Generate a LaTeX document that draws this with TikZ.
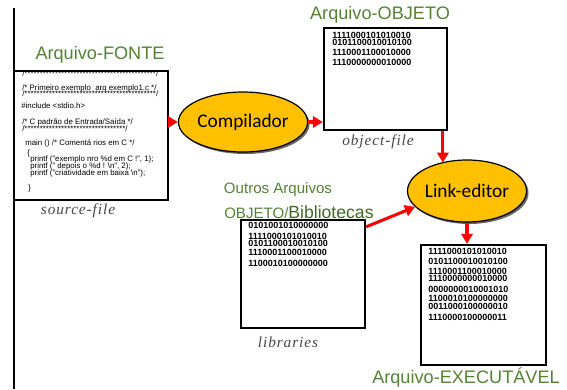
\documentclass[tikz,border=0pt]{standalone}
\usepackage{fontspec}
\setmainfont{Liberation Sans}
\newfontfamily\calibrifont{Carlito}
\newfontfamily\spacedserif{Liberation Serif}[LetterSpace=6]
\usetikzlibrary{arrows.meta, shapes.geometric, shadows}

\definecolor{labelgreen}{RGB}{84,130,53}
\definecolor{darkgreen}{RGB}{62,104,38}
\definecolor{goldfill}{RGB}{255,192,0}
\definecolor{captiongray}{RGB}{70,70,70}

\tikzset{
  filebox/.style = {rectangle, line width = 1.8pt, draw = black, fill = white, inner sep = 0pt},
  toolnode/.style = {ellipse, line width = 0.9pt, draw = black, fill = goldfill, inner sep = 0pt, font = \calibrifont\fontsize{14.5}{16}\selectfont, drop shadow = {shadow xshift = 1.5pt, shadow yshift = -1.5pt, fill = black!60, opacity = 1}},
  greenlabel/.style = {text = labelgreen, inner sep = 0pt, font = \fontsize{13.6}{15}\selectfont},
  caption/.style = {text = captiongray, inner sep = 0pt, font = \spacedserif\itshape\fontsize{11.5}{13}\selectfont},
  codeline/.style = {anchor = base west, inner sep = 0pt, font = \fontsize{5.9}{6.5}\selectfont},
  bits/.style = {anchor = north west, align = left, inner sep = 0pt, font = \bfseries\fontsize{6.75}{7.5}\selectfont},
  redarrow/.style = {draw = red, line width = 2.3pt, -{Triangle[length = 7.5pt, width = 8.5pt]}}
}

\begin{document}
\begin{tikzpicture}[x = 0.75pt, y = -0.75pt]
\useasboundingbox (0, 0) rectangle (567, 389);

\draw[line width = 2.2pt] (14, 8) -- (14, 389);

% file boxes
\node[filebox, minimum width = 115.5pt, minimum height = 96.75pt] (src) at (91, 135.5) {};
\node[filebox, minimum width = 92.25pt, minimum height = 76.5pt] (obj) at (385.5, 79) {};
\node[filebox, minimum width = 93pt, minimum height = 81pt] (lib) at (303, 274) {};
\node[filebox, minimum width = 93.75pt, minimum height = 90pt] (exec) at (483.5, 305) {};

% tools
\node[toolnode, minimum width = 82.5pt, minimum height = 45pt] (comp) at (243, 122) {Compilador};
\node[toolnode, minimum width = 79.5pt, minimum height = 46.5pt] (link) at (467, 191) {Link-editor};

% source code
\node[codeline] (c1) at (22, 76) {/*******************************************/};
\node[codeline] (c2) at (22, 90) {/* Primeiro exemplo\ \ arq exemplo1.c */};
\node[codeline] (c3) at (22, 96) {/*******************************************/};
\node[codeline] (c4) at (21, 108) {\#include <stdio.h>};
\node[codeline] (c5) at (22, 124) {/* C padrão de Entrada/Saída */};
\node[codeline] (c6) at (22, 131) {/*********************************/};
\node[codeline] (c7) at (25, 145) {main () /* Comentá rios em C */};
\node[codeline] (c8) at (27, 155) {\{};
\node[codeline] (c9) at (30, 161) {printf ("exemplo nro \%d em C !", 1);};
\node[codeline] (c10) at (30, 168) {printf (" depois o \%d ! \textbackslash n", 2);};
\node[codeline] (c11) at (30, 175) {printf ("criatividade em baixa \textbackslash n");};
\node[codeline] (c12) at (28, 190) {\}};

% binary contents
\node[bits] (objbits) at (332, 32) {1111000101010010\\[-2.25pt]0101100010010100\\1110001100010000\\1110000000010000};
\node[bits] (libbits) at (248, 222) {0101001010000000\\[0.75pt]1111000101010010\\[-2.25pt]0101100010010100\\[-0.75pt]1110001100010000\\[0.75pt]1100010100000000};
\node[bits] (exebits) at (428, 248) {1111000101010010\\0101100010010100\\1110001100010000\\[-2.25pt]1110000000010000\\[0.75pt]0000000010001010\\[-0.75pt]1100010100000000\\[-1.5pt]0011000100000010\\[0.75pt]1110000100000011};

% labels
\node[greenlabel] (fonte) at (100, 55) {Arquivo-FONTE};
\node[greenlabel] (objeto) at (380, 15) {Arquivo-OBJETO};
\node[greenlabel] (executavel) at (466, 378) {Arquivo-EXECUTÁVEL};
\node[greenlabel, font = \fontsize{11.3}{13}\selectfont] (outros) at (278, 190) {Outros Arquivos};
\node[greenlabel, anchor = west, font = \fontsize{11.3}{13}\selectfont] (biblio) at (224, 212) {OBJETO/{\color{darkgreen}\fontsize{13.2}{15}\selectfont Bibliotecas}};

\node[caption] (srcname) at (78, 211) {source-file};
\node[caption] (objname) at (378, 142) {object-file};
\node[caption] (libname) at (288, 342) {libraries};

% arrows
\coordinate (objout) at ([xshift = -4pt]obj.south east);
\draw[redarrow] (comp.west -| src.east) -- (comp.west);
\draw[redarrow] (comp.east) -- (comp.east -| obj.west);
\draw[redarrow] (objout) -- (objout |- link.133);
\draw[redarrow] ([yshift = -6pt]lib.north east) -- (link.197);
\draw[redarrow] (link.south) -- (link.south |- exec.north);

\end{tikzpicture}
\end{document}
